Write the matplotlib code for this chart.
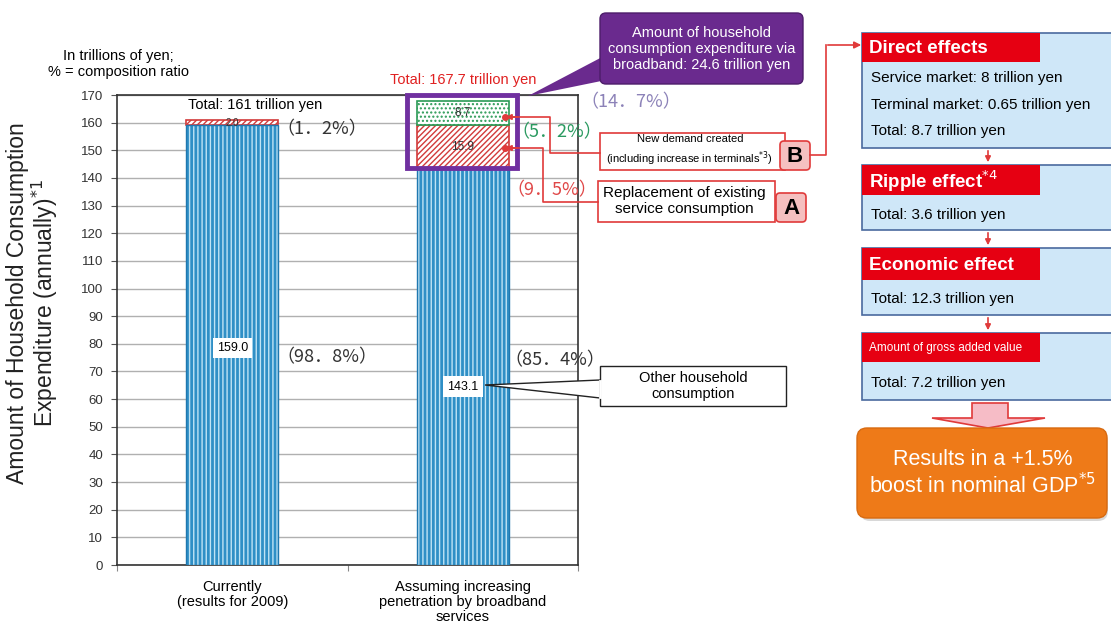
import matplotlib
matplotlib.use("Agg")
import matplotlib.pyplot as plt
from matplotlib.patches import Rectangle, FancyBboxPatch, Polygon
import numpy as np

plt.rcParams['font.family'] = ['Liberation Sans', 'Noto Sans CJK JP', 'DejaVu Sans']

# household consumption, trillions of yen
categories = ["Currently\n(results for 2009)",
              "Assuming increasing\npenetration by broadband\nservices"]
other = [159.0, 143.1]
replacement = [2.0, 15.9]
new_demand = [0.0, 8.7]
share_other = [98.8, 85.4]
share_replacement = [1.2, 9.5]
share_new = [5.2]
share_broadband = 14.7
yticks = list(range(0, 171, 10))

flow_titles = ["Direct effects", "Ripple effect$^{*4}$", "Economic effect",
               "Amount of gross added value"]
flow_lines = [["Service market: 8 trillion yen",
               "Terminal market: 0.65 trillion yen",
               "Total: 8.7 trillion yen"],
              ["Total: 3.6 trillion yen"],
              ["Total: 12.3 trillion yen"],
              ["Total: 7.2 trillion yen"]]

W, H = 1111, 625
fig = plt.figure(figsize=(W / 100, H / 100), dpi=100)
fig.patch.set_facecolor('white')

ax = fig.add_axes([117 / W, 1 - 565 / H, 461 / W, 470 / H])
x = np.arange(len(categories))
bw = 0.4
other = np.array(other)
replacement = np.array(replacement)
new_demand = np.array(new_demand)

plt.rcParams['hatch.linewidth'] = 1.0
ax.bar(x, other, bw, color='#2f8fc6', edgecolor='#bfe3f5', hatch='||||', lw=0, zorder=3)
ax.bar(x, other, bw, fill=False, edgecolor='#1f78b0', lw=1, zorder=4)
ax.bar(x, replacement, bw, bottom=other, color='white', edgecolor='#d23a3a',
       hatch='//////', lw=1.2, zorder=3)
ax.bar(x[1:], new_demand[1:], bw, bottom=(other + replacement)[1:], color='white',
       edgecolor='#2a9a55', hatch='....', lw=1.2, zorder=3)

ax.set_xlim(-0.5, 1.5)
ax.set_ylim(0, 170)
ax.set_yticks(yticks)
ax.set_yticklabels([str(t) for t in yticks], family=['Liberation Sans Narrow', 'Liberation Sans'],
                   fontsize=9.5, color='#333333')
ax.set_xticks([-0.5, 0.5, 1.5])
ax.set_xticklabels([])
ax.tick_params(axis='y', length=4, direction='out', color='#555555', pad=6)
ax.tick_params(axis='x', length=4, direction='out', color='#888888')
ax.grid(axis='y', color='#b0b0b0', lw=1, zorder=0)
for s in ax.spines.values():
    s.set_color('#333333')
    s.set_linewidth(1.2)

for i, lab in enumerate(categories):
    ax.text(x[i], -5.5, lab, ha='center', va='top', fontsize=10.5, clip_on=False, linespacing=1.1)

# value labels inside the bars
num_font = ['Liberation Sans Narrow', 'Liberation Sans']
for i in range(len(x)):
    ax.text(x[i], other[i] / 2 - 1 - 6 * i, f"{other[i]:.1f}", ha='center', va='center', fontsize=9,
            family=num_font, bbox=dict(fc='white', ec='none', pad=3), zorder=5)
    ax.text(x[i], other[i] + replacement[i] / 2, f"{replacement[i]:.1f}", ha='center', va='center',
            fontsize=7 if replacement[i] < 5 else 8.5, family=num_font, color='#333333', zorder=5)
ax.text(x[1], other[1] + replacement[1] + new_demand[1] / 2, f"{new_demand[1]:.1f}", ha='center',
        va='center', fontsize=8.5, family=num_font, color='#333333', zorder=5)

totals = other + replacement + new_demand
ax.text(0.1, 166.5, f"Total: {totals[0]:.0f} trillion yen", ha='center', va='center', fontsize=10.5, zorder=6)
ax.text(1.0, 175.5, f"Total: {totals[1]:.1f} trillion yen", ha='center', va='center', fontsize=10.5,
        color='#e02020', clip_on=False)

def pct(v):
    return f"（{v:.1f}%）".replace('.', '．')

cjk = ['Noto Sans CJK JP']
ax.text(0.19, 75, pct(share_other[0]), fontsize=13, family=cjk, va='center', color='#333333')
ax.text(1.18, 74, pct(share_other[1]), fontsize=13, family=cjk, va='center', color='#333333')
ax.text(0.19, 157.5, pct(share_replacement[0]), fontsize=13, family=cjk, va='center', color='#333333')
ax.text(1.19, 135.5, pct(share_replacement[1]), fontsize=13, family=cjk, va='center', color='#e04848', zorder=6)
ax.text(1.21, 156.5, pct(share_new[0]), fontsize=13, family=cjk, va='center', color='#2a9a60', zorder=6)
ax.text(1.51, 167.2, pct(share_broadband), fontsize=13, family=cjk, va='center', color='#8c82b8',
        clip_on=False)

# purple frame around the broadband share
ax.add_patch(Rectangle((0.758, 143.5), 0.477, 26.5, fill=False, ec='#7030a0', lw=3.5, zorder=6,
                       clip_on=False))

# overlay in pixel coordinates for callouts and the flow chart
ov = fig.add_axes([0, 0, 1, 1])
ov.set_xlim(0, W)
ov.set_ylim(H, 0)
ov.axis('off')
ov.patch.set_alpha(0)

ov.text(118, 64, "In trillions of yen;\n% = composition ratio", ha='center', va='center', fontsize=10.5,
        linespacing=1.25)
ov.text(33, 303, "Amount of Household Consumption\nExpenditure (annually)$^{*1}$", rotation=90,
        ha='center', va='center', fontsize=16.5, color='#222222', linespacing=1.05)

# purple callout
ov.add_patch(Polygon([(528, 96), (606, 55), (616, 78)], closed=True, fc='#6a2a8e', ec='none'))
ov.add_patch(FancyBboxPatch((600, 13), 203, 71, boxstyle='round,pad=0,rounding_size=6',
                            fc='#6a2a8e', ec='#4d1d6a', lw=1))
ov.text(702, 49, "Amount of household\nconsumption expenditure via\nbroadband: 24.6 trillion yen",
        ha='center', va='center', color='white', fontsize=10.5, linespacing=1.2)

red = '#e03a3a'
# connectors from the bar segments to the boxes
ov.plot([505, 550, 550, 600], [117, 117, 153, 153], color=red, lw=1.2)
ov.plot([505, 543, 543, 598], [148, 148, 202, 202], color=red, lw=1.2)
ov.plot([505], [117], 'o', color=red, ms=4)
ov.plot([505], [148], 'o', color=red, ms=4)
ov.annotate('', xy=(503, 117), xytext=(520, 117),
            arrowprops=dict(arrowstyle='-|>', color=red, lw=1.2, mutation_scale=8))
ov.annotate('', xy=(503, 148), xytext=(520, 148),
            arrowprops=dict(arrowstyle='-|>', color=red, lw=1.2, mutation_scale=8))

ov.add_patch(Rectangle((600, 133), 185, 37, fc='white', ec=red, lw=1.2))
ov.text(690, 151, "New demand created\n(including increase in terminals$^{*3}$)", ha='center', va='center',
        fontsize=8, linespacing=1.35)
ov.add_patch(Rectangle((598, 181), 177, 41, fc='white', ec=red, lw=1.2))
ov.text(684, 201, "Replacement of existing\nservice consumption", ha='center', va='center',
        fontsize=11, linespacing=1.15)
for lab, (bx, by) in zip("BA", [(780, 141), (776, 193)]):
    ov.add_patch(FancyBboxPatch((bx, by), 30, 29, boxstyle='round,pad=0,rounding_size=4',
                                fc='#f5c0c0', ec=red, lw=1.2))
    ov.text(bx + 15, by + 15, lab, ha='center', va='center', fontsize=16, fontweight='bold')

ov.plot([810, 826, 826], [155, 155, 45], color=red, lw=1.2)
ov.annotate('', xy=(864, 45), xytext=(825, 45),
            arrowprops=dict(arrowstyle='-|>', color=red, lw=1.2, mutation_scale=10))

# other household consumption callout
ov.add_patch(Polygon([(485, 385), (600, 380), (600, 398)], closed=True, fc='white', ec='#222222', lw=1))
ov.add_patch(Rectangle((600, 366), 186, 40, fc='white', ec='#222222', lw=1))
ov.plot([600, 600], [381, 397], color='white', lw=2)
ov.text(693, 386, "Other household\nconsumption", ha='center', va='center', fontsize=10.5, linespacing=1.15)

# flow chart
boxes = [(33, 148, 62), (165, 230, 195), (248, 315, 280), (333, 400, 362)]
hdr_red = '#e60012'
for (top, bot, hbot), title, lines in zip(boxes, flow_titles, flow_lines):
    ov.add_patch(Rectangle((862, top), 250, bot - top, fc='#cfe7f8', ec='#4a6a9e', lw=1.2))
    ov.add_patch(Rectangle((862, top), 178, hbot - top, fc=hdr_red, ec='none'))
    small = title.startswith("Amount")
    ov.text(869, (top + hbot) / 2 + 1, title, color='white', va='center', ha='left',
            fontsize=8.5 if small else 13.5, fontweight='normal' if small else 'bold')
    n = len(lines)
    ys = np.linspace(hbot + 16, bot - 17, n) if n > 1 else [(hbot + bot) / 2 + 2]
    for yy, ln in zip(ys, lines):
        ov.text(871, yy, ln, va='center', ha='left', fontsize=11)

for y0, y1 in [(148, 165), (230, 248), (315, 333)]:
    ov.annotate('', xy=(988, y1), xytext=(988, y0),
                arrowprops=dict(arrowstyle='-|>', color=red, lw=1.2, mutation_scale=8))

ov.add_patch(Polygon([(972, 403), (1008, 403), (1008, 418), (1045, 418), (988, 428),
                      (932, 418), (972, 418)], closed=True, fc='#f6bcc6', ec=red, lw=1.2))

ov.add_patch(FancyBboxPatch((860, 431), 248, 90, boxstyle='round,pad=0,rounding_size=10',
                            fc='#b3b3b3', ec='none', alpha=0.5))
ov.add_patch(FancyBboxPatch((857, 428), 250, 90, boxstyle='round,pad=0,rounding_size=10',
                            fc='#ee7a18', ec='#d86a10', lw=1))
ov.text(983, 474, "Results in a +1.5%\nboost in nominal GDP$^{*5}$", ha='center', va='center',
        color='white', fontsize=15.5, linespacing=1.15)

fig.savefig("out.png", dpi=100)
